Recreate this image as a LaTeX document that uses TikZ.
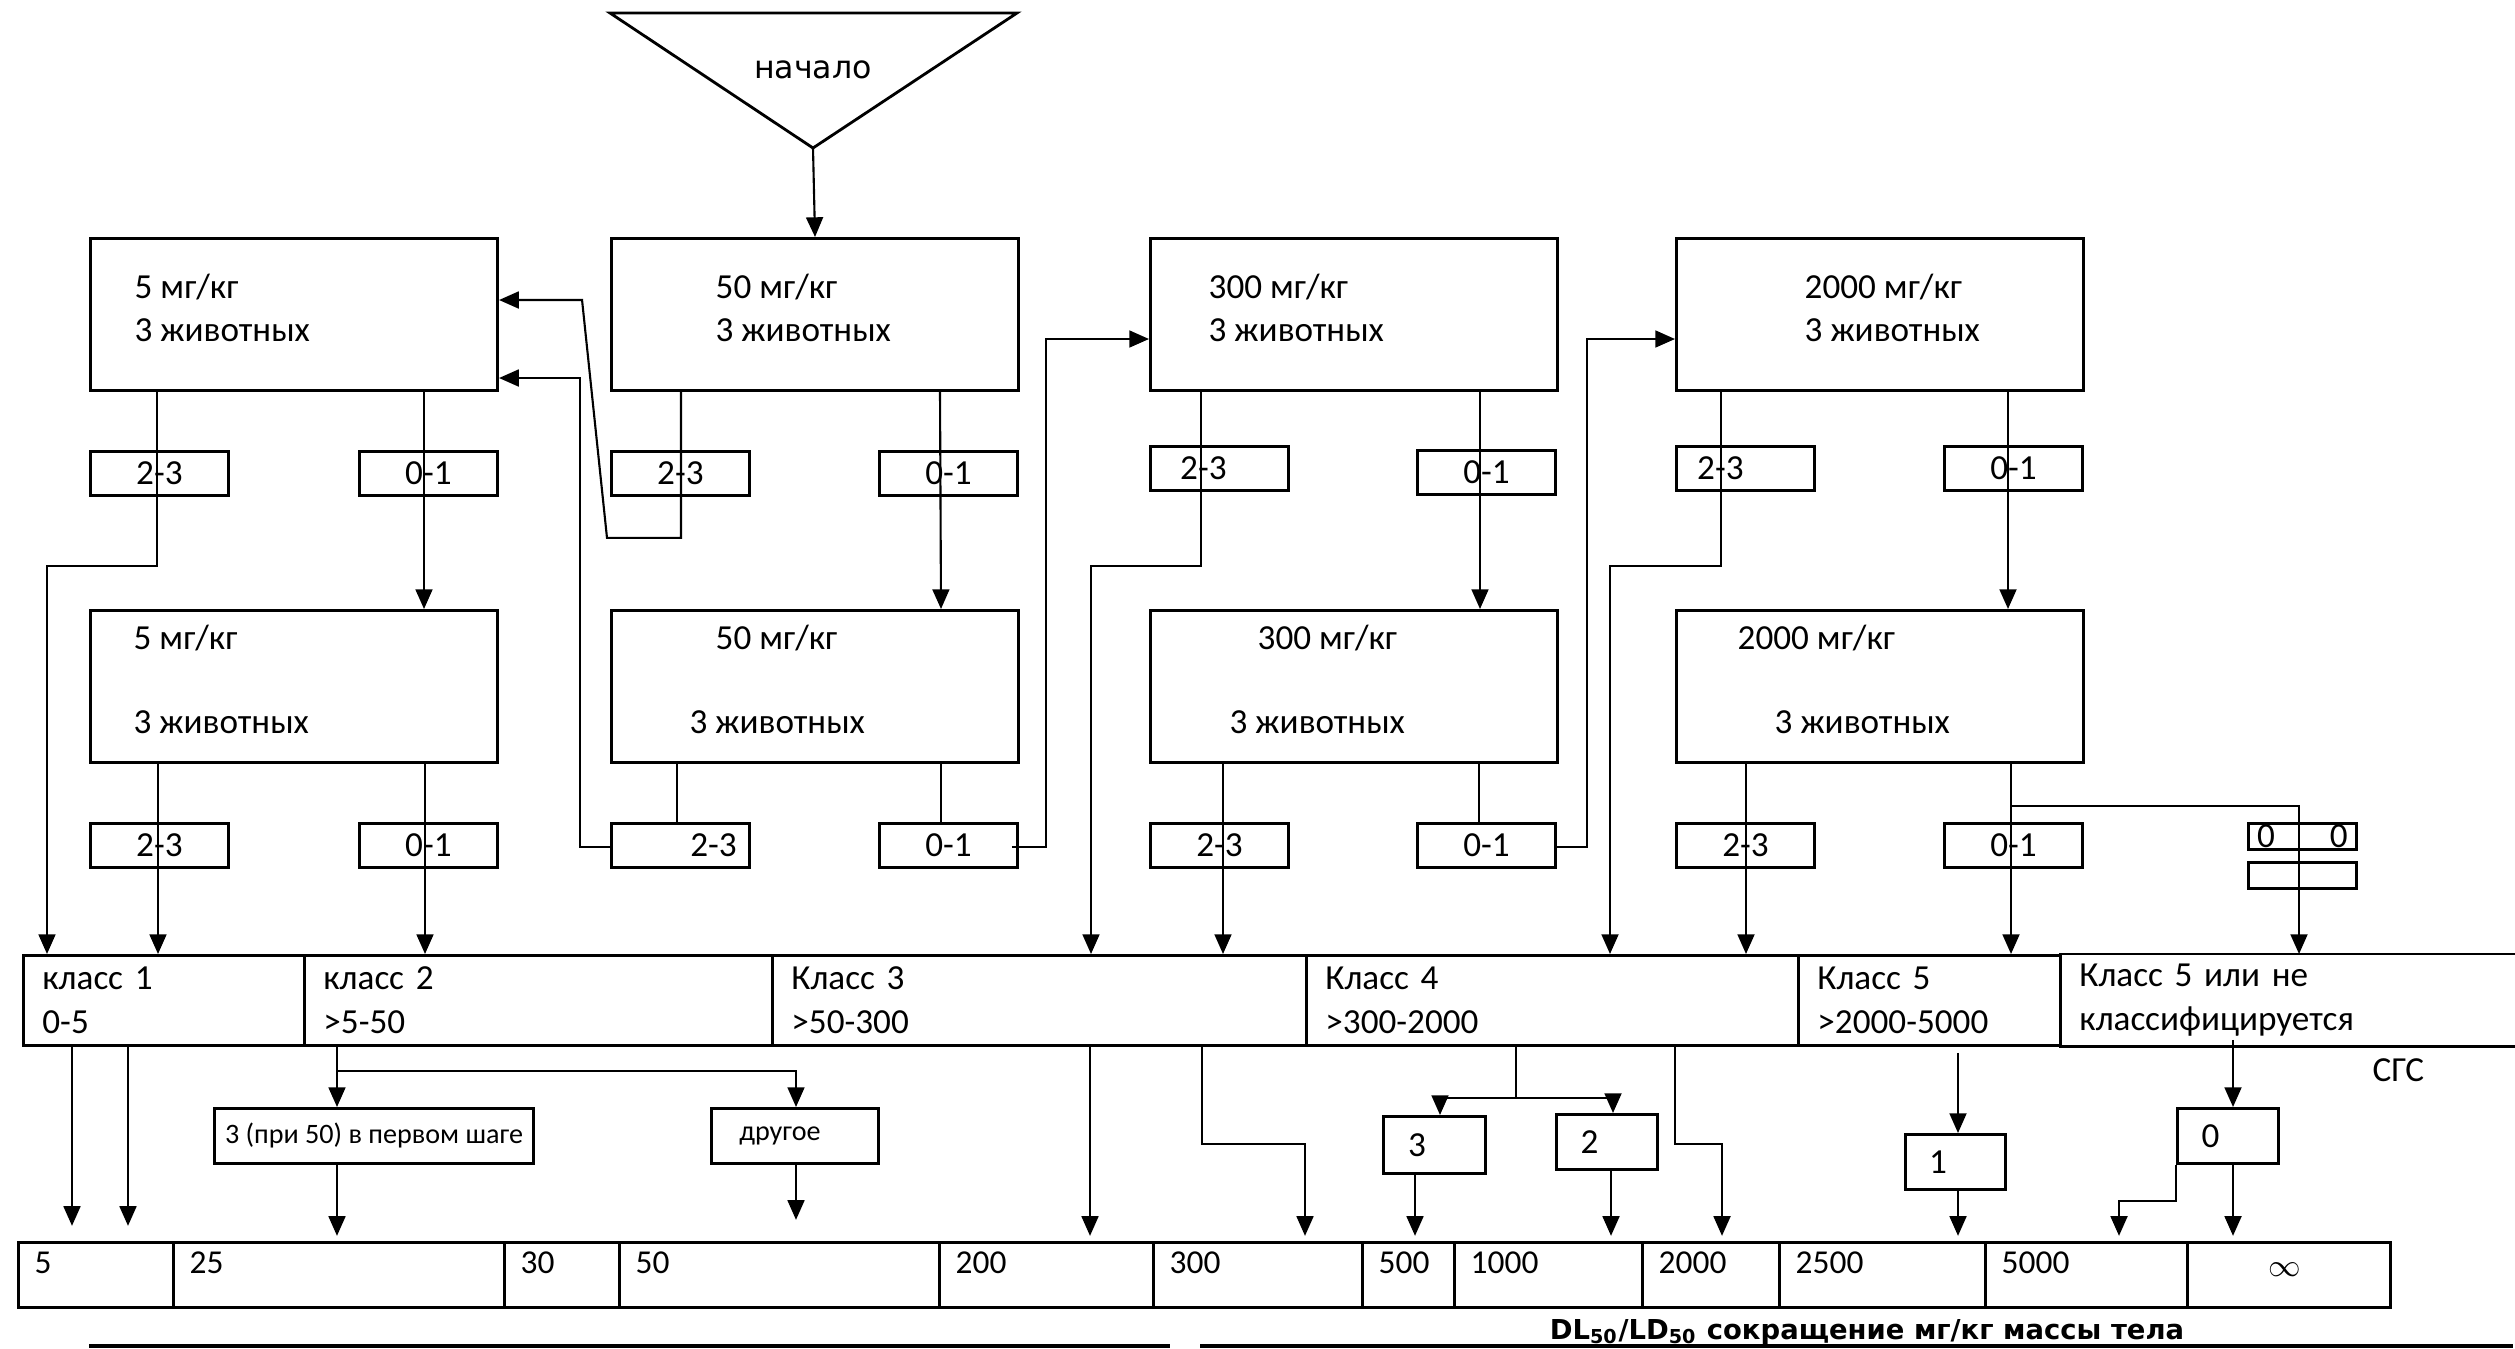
\documentclass[tikz,border=0pt]{standalone}
\usepackage{fontspec}
\setmainfont{Carlito}
\newfontfamily\dejavu{DejaVu Sans}
\usetikzlibrary{arrows.meta,calc,positioning}

\tikzset{
  dosebox/.style={draw,line width=0.8pt,minimum width=4.07cm,minimum height=1.52cm,inner sep=0pt,anchor=north west},
  countbox/.style={draw,line width=0.8pt,minimum width=1.38cm,minimum height=0.44cm,inner sep=0pt,anchor=north west,font=\fontsize{10}{12}\selectfont},
  dosetext/.style={anchor=west,inner sep=0pt,font=\fontsize{10}{12}\selectfont},
  classcell/.style={draw,line width=0.8pt,minimum height=0.9cm,inner xsep=0.19cm,inner ysep=0pt,anchor=north west,align=left,font=\fontsize{10}{12.5}\selectfont},
  valcell/.style={draw,line width=0.8pt,minimum height=0.65cm,inner sep=0pt,anchor=north west},
  vallabel/.style={anchor=west,inner sep=0pt,font=\fontsize{9.5}{11}\selectfont},
  hazbox/.style={draw,line width=0.8pt,inner sep=0pt,anchor=north west,font=\fontsize{10}{12}\selectfont},
  link/.style={line width=0.6pt},
  arr/.style={link,-{Triangle[width=4.8pt,length=5.6pt]}},
}

\begin{document}
\begin{tikzpicture}[x=0.01cm,y=-0.01cm]
\useasboundingbox (0,0) rectangle (2515,1348);

% start
\draw[line width=0.8pt] (610,13) -- (1017,13) -- (813,148) -- cycle;
\node (start) [font=\dejavu\fontsize{9}{11}\selectfont] at (813,70) {начало};
\coordinate (apex) at (813,148);

% dose boxes
\foreach \n/\x in {a/89,b/610,c/1149,d/1675} {
	\node (\n1) [dosebox] at (\x,237) {};
	\node (\n2) [dosebox] at (\x,609) {};
}
\foreach \n/\dx/\dose in {a/45/5,b/105/50,c/59/300,d/129/2000} {
	\node (\n1dose) [dosetext] at ($(\n1.north west)+(\dx,50)$) {\dose{} мг/кг};
	\node (\n1cnt) [dosetext] at ($(\n1.north west)+(\dx,93)$) {3 животных};
}
\foreach \n/\dx/\ax/\dose in {a/44/44/5,b/105/79/50,c/108/80/300,d/62/99/2000} {
	\node (\n2dose) [dosetext] at ($(\n2.north west)+(\dx,29)$) {\dose{} мг/кг};
	\node (\n2cnt) [dosetext] at ($(\n2.north west)+(\ax,113)$) {3 животных};
}

% outcome boxes
\node (a1l) [countbox] at (89,450) {2-3};
\node (a1r) [countbox] at (358,450) {0-1};
\node (b1l) [countbox] at (610,450) {2-3};
\node (b1r) [countbox] at (878,450) {0-1};
\node (c1l) [countbox] at (1149,445) {2-3\hspace{0.32cm}\mbox{}};
\node (c1r) [countbox] at (1416,449) {0-1};
\node (d1l) [countbox] at (1675,445) {2-3\hspace{0.5cm}\mbox{}};
\node (d1r) [countbox] at (1943,445) {0-1};
\node (a2l) [countbox] at (89,822) {2-3};
\node (a2r) [countbox] at (358,822) {0-1};
\node (b2l) [countbox] at (610,822) {\hspace{0.66cm}2-3};
\node (b2r) [countbox] at (878,822) {0-1};
\node (c2l) [countbox] at (1149,822) {2-3};
\node (c2r) [countbox] at (1416,822) {0-1};
\node (d2l) [countbox] at (1675,822) {2-3};
\node (d2r) [countbox] at (1943,822) {0-1};
\node (z1) [hazbox,minimum width=1.08cm,minimum height=0.26cm] at (2247,822) {0\hspace{0.55cm}0};
\node (z2) [hazbox,minimum width=1.08cm,minimum height=0.26cm] at (2247,861) {};

% classes
\foreach \lft/\rgt/\txt [count=\i] in {22/303/{класс 1\\0-5},303/771/{класс 2\\>5-50},771/1305/{Класс 3\\>50-300},1305/1797/{Класс 4\\>300-2000},1797/2059/{Класс 5\\>2000-5000}} {
	\pgfmathsetmacro\cw{(\rgt-\lft)*0.01-0.38}
	\node (k\i) [classcell,text width=\cw cm] at (\lft,954) {\txt};
}
\node (k6) [classcell,draw=none,text width=4.18cm] at (2059,954) {Класс 5 или не\\классифицируется};
\draw[line width=0.8pt] (k6.north west) -- (k6.north east) (k6.south west) -- (k6.south east);
\node (sgs) [dosetext] at (2372,1070) {СГС};

% hazard boxes
\node (k2a) [hazbox,minimum width=3.19cm,minimum height=0.55cm,font=\fontsize{8}{10}\selectfont] at (213,1107) {3 (при 50) в первом шаге};
\node (k2b) [hazbox,minimum width=1.67cm,minimum height=0.55cm,font=\fontsize{8}{10}\selectfont] at (710,1107) {другое\hspace{0.3cm}\mbox{}};
\node (h3) [hazbox,minimum width=1.02cm,minimum height=0.57cm] at (1382,1115) {3\hspace{0.35cm}\mbox{}};
\node (h2) [hazbox,minimum width=1.01cm,minimum height=0.55cm] at (1555,1113) {2\hspace{0.35cm}\mbox{}};
\node (h1) [hazbox,minimum width=1.00cm,minimum height=0.55cm] at (1904,1133) {\raisebox{-0.08cm}{1}\hspace{0.35cm}\mbox{}};
\node (h0) [hazbox,minimum width=1.01cm,minimum height=0.55cm] at (2176,1107) {0\hspace{0.35cm}\mbox{}};

% LD50 scale
\foreach \lft/\rgt/\txt [count=\i] in {17/172/5,172/503/25,503/618/30,618/938/50,938/1152/200,1152/1361/300,1361/1453/500,1453/1641/1000,1641/1778/2000,1778/1984/2500,1984/2186/5000,2186/2389/} {
	\pgfmathsetmacro\cw{(\rgt-\lft)*0.01}
	\node (v\i) [valcell,minimum width=\cw cm] at (\lft,1241) {};
	\node (vt\i) [vallabel] at ($(v\i.north west)+(17,22)$) {\txt};
}
\node (vinf) [vallabel,anchor=center] at ($(v12.north)+(-4,29)$) {$\infty$};
\node (cap) [inner sep=0pt,font=\dejavu\bfseries\fontsize{7.8}{10}\selectfont] at (1867,1332) {DL\textsubscript{50}/LD\textsubscript{50} сокращение мг/кг массы тела};
\draw[line width=0.9pt] (89,1346) -- (1170,1346);
\draw[line width=0.9pt] (1200,1346) -- (2513,1346);

% first step
\draw[arr] (apex) -- (b1.north);
\draw[arr] ($(a1.south west)+(68,0)$) -- ++(0,174) -| ($(k1.north west)+(25,0)$);
\draw[arr] ($(a1.south west)+(335,0)$) -- ($(a2.north west)+(335,0)$);
\draw[arr] ($(b1.south west)+(71,0)$) -- ++(0,146) -- ++(-74,0) -- ($(a1.north east)+(83,63)$) -- ($(a1.north east)+(0,63)$);
\draw[arr] ($(b1.south west)+(330,0)$) -- ($(b2.north west)+(331,0)$);
\draw[arr] ($(c1.south west)+(52,0)$) -- ++(0,174) -| ($(k3.north west)+(320,0)$);
\draw[arr] ($(c1.south west)+(331,0)$) -- ($(c2.north west)+(331,0)$);
\draw[arr] ($(d1.south west)+(46,0)$) -- ++(0,174) -| ($(k4.north west)+(305,0)$);
\draw[arr] ($(d1.south west)+(333,0)$) -- ($(d2.north west)+(333,0)$);

% second step
\draw[arr] ($(a2.south west)+(69,0)$) -- ($(k1.north west)+(136,0)$);
\draw[arr] ($(a2.south west)+(336,0)$) -- ($(k2.north west)+(122,0)$);
\draw[link] ($(b2.south west)+(67,0)$) -- ($(b2l.north west)+(67,3)$);
\draw[arr] ($(b2l.north west)+(0,25)$) -- ++(-30,0) |- ($(a1.north east)+(0,141)$);
\draw[link] ($(b2.south west)+(331,0)$) -- ($(b2r.north west)+(63,0)$);
\draw[arr] ($(b2r.north east)+(-7,25)$) -- ++(34,0) |- ($(c1.north west)+(0,102)$);
\draw[arr] ($(c2.south west)+(74,0)$) -- ($(k3.north west)+(452,0)$);
\draw[link] ($(c2.south west)+(330,0)$) -- ($(c2r.north west)+(63,0)$);
\draw[arr] ($(c2r.north east)+(0,25)$) -- ++(30,0) |- ($(d1.north west)+(0,102)$);
\draw[arr] ($(d2.south west)+(71,0)$) -- ($(k4.north west)+(441,0)$);
\draw[arr] ($(d2.south west)+(336,0)$) -- ($(k5.north west)+(214,0)$);
\draw[arr] ($(d2.south west)+(336,42)$) -| ($(k6.north west)+(240,0)$);

% classes to scale
\draw[arr] ($(k1.south west)+(50,0)$) -- ++(0,179);
\draw[arr] ($(k1.south west)+(106,0)$) -- ++(0,179);
\draw[arr] ($(k2.south west)+(34,0)$) -- ($(k2a.north west)+(124,0)$);
\draw[arr] ($(k2.south west)+(34,24)$) -| ($(k2b.north west)+(86,0)$);
\draw[arr] ($(k2a.south west)+(124,0)$) -- ++(0,71);
\draw[arr] ($(k2b.south west)+(86,0)$) -- ++(0,55);
\draw[arr] ($(k3.south west)+(319,0)$) -- ++(0,189);
\draw[arr] ($(k3.south west)+(431,0)$) -- ++(0,97) -| ($(k4.south west)+(0,189)$);
\draw[link] ($(k4.south west)+(211,0)$) -- ++(0,51);
\draw[arr] ($(k4.south west)+(211,51)$) -| ($(h3.north west)+(58,0)$);
\draw[arr] ($(k4.south west)+(211,51)$) -| ($(h2.north west)+(58,0)$);
\draw[arr] ($(h3.south west)+(33,0)$) -- ++(0,61);
\draw[arr] ($(h2.south west)+(56,0)$) -- ++(0,65);
\draw[arr] ($(k4.south west)+(370,0)$) -- ++(0,97) -| ++(47,92);
\draw[arr] ($(k5.south west)+(161,6)$) -- ($(h1.north west)+(54,0)$);
\draw[arr] ($(h1.south west)+(54,0)$) -- ++(0,45);
\draw[arr] ($(k6.south west)+(174,-7)$) -- ($(h0.north west)+(57,0)$);
\draw[arr] ($(h0.south west)+(57,0)$) -- ++(0,71);
\draw[arr] (h0.south west) -- ++(0,36) -| ++(-57,35);
\end{tikzpicture}
\end{document}
